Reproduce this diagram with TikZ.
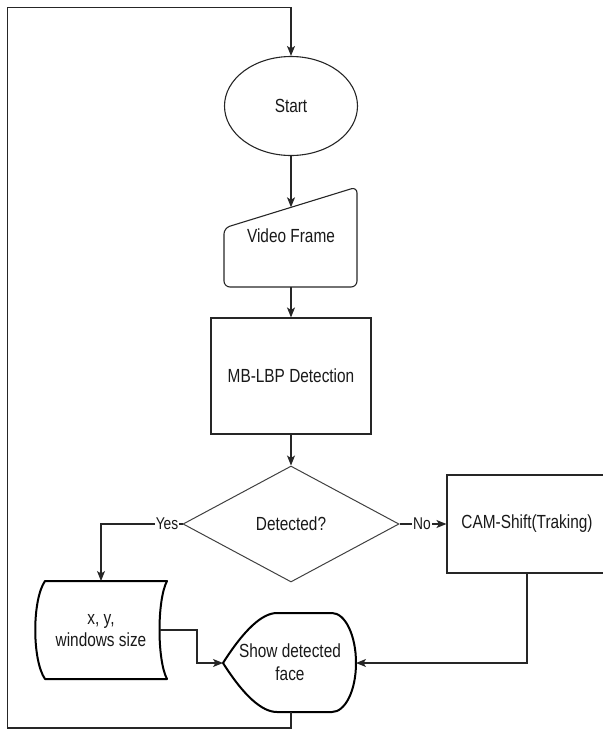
\documentclass[tikz,border=0pt]{standalone}
\usepackage{fontspec}
\setmainfont[FakeStretch=0.81]{Liberation Sans}
\usetikzlibrary{shapes.geometric,arrows.meta,calc}
\begin{document}
\begin{tikzpicture}[x=1pt,y=-1pt,
  line/.style={draw=black!85, line width=1.1pt},
  arr/.style={line, -{Stealth[length=10pt,width=8pt,inset=2.5pt]}},
  txt/.style={font=\fontsize{19}{23}\selectfont, text=black!90, inner sep=0pt, align=center},
  lbl/.style={font=\fontsize{17}{20}\selectfont, text=black!90, fill=white, inner sep=1pt},
  heavy/.style={draw=black, line width=2pt, line join=round}]
\useasboundingbox (0,0) rectangle (603,729);

% Start
\node[ellipse, line, minimum width=133pt, minimum height=99pt, txt] (start) at (291,106) {Start};

% Video Frame (manual input)
\draw[line, rounded corners=6pt] (224,228) -- (357,187) -- (357,287) -- (224,287) -- cycle;
\node[txt] (vf) at (291,236) {Video Frame};
\coordinate (vftop) at (291,207.3);
\coordinate (vfbot) at (291,287);

% MB-LBP Detection
\node[rectangle, line, minimum width=160pt, minimum height=116pt, txt] (mb) at (291,376) {MB-LBP Detection};

% Decision
\node[diamond, draw=black!75, line width=1pt, minimum width=216pt, minimum height=116pt, txt] (det) at (291,524) {Detected?};

% CAM-Shift
\node[rectangle, line, minimum width=160pt, minimum height=98pt, txt] (cam) at (527,524) {CAM-Shift(Traking)};

% x, y, windows size (stored data)
\draw[heavy] (45,581) -- (167,581) .. controls (157,600) and (157,660) .. (167,679)
  -- (45,679) .. controls (32,660) and (32,600) .. (45,581) -- cycle;
\node[txt, font=\fontsize{19}{22}\selectfont] (xy) at (101,631) {x, y,\\windows size};
\coordinate (xytop) at (101,581);
\coordinate (xyout) at (160,630);

% Show detected face (display)
\draw[heavy] (223,663) .. controls (244,630) and (262,613) .. (277,613) -- (332,613)
  .. controls (345,613) and (356,635) .. (356,663)
  .. controls (356,691) and (345,712) .. (332,712) -- (277,712)
  .. controls (262,712) and (244,696) .. (223,663) -- cycle;
\node[txt] (face) at (290,662) {Show detected\\face};
\coordinate (faceL) at (223,663);
\coordinate (faceR) at (356,663);
\coordinate (facebot) at (291,712);
\coordinate (loopcorner) at (7.3,7.3);

% connectors
\draw[arr] (start.south) -- (vftop);
\draw[arr] (vfbot) -- (mb.north);
\draw[arr] (mb.south) -- (det.north);
\draw[arr] (det.west) -| (xytop);
\node[lbl] (yes) at (167,524) {Yes};
\draw[arr] (det.east) -- (cam.west);
\node[lbl] (no) at (422,524) {No};
\draw[arr] (cam.south) |- (faceR);
\draw[arr] (xyout) -- (197,630) |- (faceL);
\draw[arr] (facebot) -- ++(0,16) -| (loopcorner) -| (start.north);
\end{tikzpicture}
\end{document}
